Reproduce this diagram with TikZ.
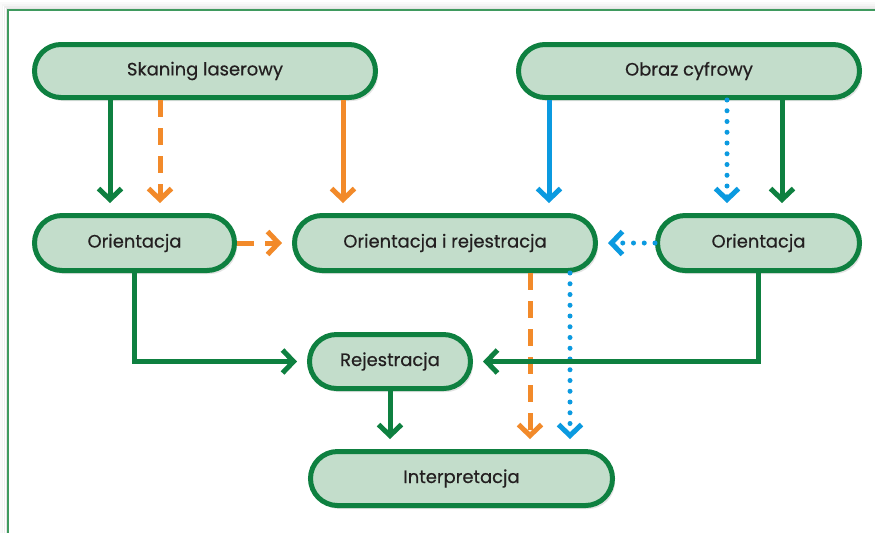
\documentclass[tikz,border=0pt]{standalone}
\usepackage{fontspec}
\setmainfont{Poppins}
\newfontfamily\stagefont{Poppins}[FakeBold=0.5]
\usepackage{xcolor}
\usetikzlibrary{arrows.meta}
\usetikzlibrary{shapes.misc}
\usetikzlibrary{shadows}

\definecolor{boxgreen}{HTML}{0E8040}
\definecolor{boxfill}{HTML}{C3DDCB}
\definecolor{frameline}{HTML}{3F9A5E}
\definecolor{lineorange}{HTML}{F28A2A}
\definecolor{lineblue}{HTML}{0B9AE0}
\definecolor{textgray}{HTML}{231F20}

\tikzset{
  stage/.style={shape=rounded rectangle, draw=boxgreen, fill=boxfill,
    line width=0.1cm, inner sep=0pt, text=textgray,
    font=\stagefont\fontsize{10.2}{12}\selectfont,
    drop shadow={shadow xshift=0.05cm, shadow yshift=-0.07cm, opacity=0.22}},
  link/.style={line width=0.1cm, shorten >=0.2cm,
    -{Straight Barb[length=0.22cm, width=0.46cm]}},
  glink/.style={link, draw=boxgreen},
  olink/.style={link, draw=lineorange},
  odash/.style={olink, dash pattern=on 0.34cm off 0.22cm},
  blink/.style={link, draw=lineblue},
  bdot/.style={blink, line cap=round, dash pattern=on 0pt off 0.215cm},
}

\begin{document}
\begin{tikzpicture}
            \useasboundingbox (0,0) rectangle (17.500,-10.640);
            \fill[white] (0,0) rectangle (17.500,-10.640);
            \clip (0,0) rectangle (17.500,-10.640);

            % frame with soft edge
            \foreach \d/\o in {0.03/0.10, 0.07/0.07, 0.11/0.04, 0.15/0.02}
                \draw[black, opacity=\o, line width=0.04cm] (0.160-\d, -0.200+\d) rectangle (18.000, -11.000);
            \draw[frameline, line width=0.03cm] (0.160, -0.200) rectangle (18.000, -11.000);

            % stages
            \node[stage, minimum width=6.82cm, minimum height=1.06cm] (skan) at (4.100, -1.420) {Skaning laserowy};
            \node[stage, minimum width=6.82cm, minimum height=1.06cm] (obraz) at (13.780, -1.420) {Obraz cyfrowy};
            \node[stage, minimum width=4.00cm, minimum height=1.10cm] (orl) at (2.690, -4.860) {Orientacja};
            \node[stage, minimum width=6.02cm, minimum height=1.10cm] (oir) at (8.900, -4.860) {Orientacja i rejestracja};
            \node[stage, minimum width=4.04cm, minimum height=1.10cm] (orr) at (15.170, -4.860) {Orientacja};
            \node[stage, minimum width=3.22cm, minimum height=1.08cm] (rej) at (7.800, -7.230) {Rejestracja};
            \node[stage, minimum width=6.04cm, minimum height=1.08cm] (intp) at (9.230, -9.570) {Interpretacja};

            % columns of the vertical links
            \coordinate (c1) at (2.200, 0);
            \coordinate (c2) at (3.200, 0);
            \coordinate (c3) at (6.860, 0);
            \coordinate (c4) at (10.980, 0);
            \coordinate (c5) at (14.540, 0);
            \coordinate (c6) at (15.640, 0);
            \coordinate (c7) at (10.600, 0);
            \coordinate (c8) at (11.400, 0);

            \draw[glink] (skan.south -| c1) -- (orl.north -| c1);
            \draw[odash] (skan.south -| c2) -- (orl.north -| c2);
            \draw[olink] (skan.south -| c3) -- (oir.north -| c3);
            \draw[blink] (obraz.south -| c4) -- (oir.north -| c4);
            \draw[bdot] (obraz.south -| c5) -- (orr.north -| c5);
            \draw[glink] (obraz.south -| c6) -- (orr.north -| c6);

            \draw[odash] (orl.east) -- (oir.west);
            \draw[bdot] (orr.west) -- (oir.east);

            \draw[odash] (oir.south -| c7) -- (intp.north -| c7);
            \draw[bdot] (oir.south -| c8) -- (intp.north -| c8);

            \draw[glink] (orl.south) |- (rej.west);
            \draw[glink] (orr.south) |- (rej.east);
            \draw[glink] (rej.south) -- (rej.south |- intp.north);
        \end{tikzpicture}
\end{document}
